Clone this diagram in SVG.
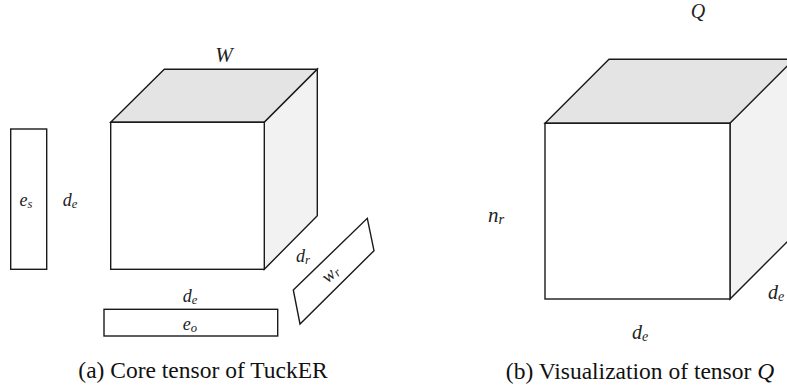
<svg xmlns="http://www.w3.org/2000/svg" width="787" height="389" viewBox="0 0 787 389">
<style>
.ln{stroke:#1a1a1a;stroke-width:1.4;stroke-linejoin:miter;}
.front{fill:#ffffff;}
.top{fill:#e4e4e4;}
.side{fill:#f2f2f2;}
.m{font-family:'Liberation Serif',serif;font-style:italic;fill:#222;}
.sub{font-size:70%;}
</style>
<rect width="787" height="389" fill="#ffffff"/>
<g id="cube-W">
<polygon class="ln top" points="110.7,122.3 164.3,69.3 317.3,69.3 264.3,122.3"/>
<polygon class="ln side" points="264.3,122.3 317.3,69.3 317.3,215.7 264.3,269.3"/>
<rect class="ln front" x="110.7" y="122.3" width="153.6" height="147"/>
<text class="m" x="224" y="62" font-size="21" text-anchor="middle">W</text>
</g>
<g id="vec-es">
<rect class="ln front" x="10.7" y="129" width="36" height="140.3"/>
<text class="m" x="26" y="206" font-size="18" text-anchor="middle">e<tspan class="sub" dy="2">s</tspan></text>
</g>
<g id="vec-eo">
<rect class="ln front" x="104" y="309.3" width="173.7" height="26.7"/>
<text class="m" x="190" y="330" font-size="18" text-anchor="middle">e<tspan class="sub" dy="2">o</tspan></text>
</g>
<g id="vec-wr">
<polygon class="ln front" points="293.3,290 367.3,218.3 374,250.7 300,324"/>
<text class="m" x="0" y="0" font-size="18" text-anchor="middle" transform="translate(334,278) rotate(-42)">w<tspan class="sub" dy="2">r</tspan></text>
</g>
<g id="labels-a">
<text class="m" x="70" y="206" font-size="18" text-anchor="middle">d<tspan class="sub" dy="2">e</tspan></text>
<text class="m" x="190" y="302" font-size="18" text-anchor="middle">d<tspan class="sub" dy="2">e</tspan></text>
<text class="m" x="303" y="262" font-size="18" text-anchor="middle">d<tspan class="sub" dy="2">r</tspan></text>
</g>
<g id="cube-Q">
<polygon class="ln top" points="545,123.3 609,59.3 800,59.3 730,123.3"/>
<polygon class="ln side" points="730,123.3 794,59.3 794,235 730,299"/>
<rect class="ln front" x="545" y="123.3" width="185" height="175.7"/>
<text class="m" x="698" y="18" font-size="20" text-anchor="middle">Q</text>
<text class="m" x="496" y="222" font-size="21" text-anchor="middle">n<tspan class="sub" dy="2">r</tspan></text>
<text class="m" x="640" y="339" font-size="20" text-anchor="middle">d<tspan class="sub" dy="2">e</tspan></text>
<text class="m" x="768" y="299" font-size="20">d<tspan class="sub" dy="2">e</tspan></text>
</g>
<g id="captions">
<text font-family="Liberation Serif" font-size="23.5" fill="#111" x="203" y="378" text-anchor="middle">(a) Core tensor of TuckER</text>
<text font-family="Liberation Serif" font-size="23.5" fill="#111" x="640" y="379" text-anchor="middle">(b) Visualization of tensor <tspan font-style="italic">Q</tspan></text>
</g>
</svg>
